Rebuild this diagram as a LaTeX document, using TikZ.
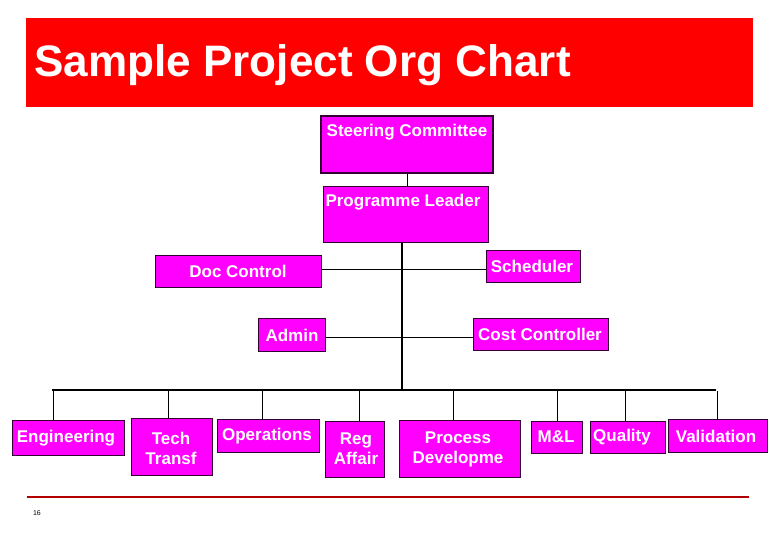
\documentclass[tikz,border=0pt]{standalone}
\usepackage{fontspec}
\setmainfont{Liberation Sans}
\definecolor{mag}{RGB}{255,0,255}
\definecolor{rd}{RGB}{255,0,0}
\begin{document}
\begin{tikzpicture}[x=1pt,y=-1pt,
 bx/.style={draw=black!80!mag,line width=0.8pt,fill=mag},
 lbl/.style={text=white,font=\bfseries\fontsize{17}{20}\selectfont,align=center,inner sep=0pt},
 ln/.style={line width=0.7pt}]
\useasboundingbox (0,0) rectangle (780,540);
\fill[white] (0,0) rectangle (780,540);
\fill[rd] (26,18) rectangle (753,107);
\node[anchor=west,text=white,font=\bfseries\fontsize{29}{34}\selectfont,inner sep=0pt,scale=1.52] (title) at (34,65) {Sample Project Org Chart};
\newcommand{\otext}[6]{\begin{scope}\clip (#1,#2) rectangle (#3,#4);
 \node[lbl] at (#5) {#6};\end{scope}}
\coordinate (top) at (402,242);
\coordinate (bus) at (402,390);
\draw[line width=1.2pt] (top) -- (bus);
\draw[line width=2pt] (52,390) coordinate (busL) -- (716,390) coordinate (busR);
\draw[ln] (407,173) coordinate (sc) -- (407,186) coordinate (pl);
\draw[ln] (321,269) coordinate (dc) -- (486,269) coordinate (sch);
\draw[ln] (325,337) coordinate (ad) -- (473,337) coordinate (cc);
\foreach \x/\y in {53/420,168/418,262/419,359/421,453/420,557/421,625/421,717/419}
 \draw[ln] (\x,391) -- (\x,\y);
\draw[bx,line width=1.3pt] (321,116) rectangle (493,173);
\otext{321}{116}{493}{173}{407,132}{Steering Committee}
\draw[bx] (323,186) rectangle (488,242);
\otext{323}{186}{488}{242}{403,202}{Programme Leader}
\draw[bx] (155,255) rectangle (321,287);
\otext{155}{255}{321}{287}{238,271}{Doc Control}
\draw[bx] (486,250) rectangle (580,282);
\otext{486}{250}{580}{282}{532,266}{Scheduler}
\draw[bx] (258,318) rectangle (325,351);
\otext{258}{318}{325}{351}{292,335}{Admin}
\draw[bx] (473,318) rectangle (608,350);
\otext{473}{318}{608}{350}{540,334}{Cost Controller}
\draw[bx] (12,420) rectangle (124,455);
\otext{0}{420}{124}{455}{66,438}{Engineering}
\draw[bx] (131,418) rectangle (212,475);
\otext{131}{418}{212}{475}{171,448}{Tech\\Transf}
\draw[bx] (217,419) rectangle (319,452);
\otext{217}{419}{319}{452}{267,436}{Operations}
\draw[bx] (325,421) rectangle (384,477);
\otext{325}{421}{384}{477}{356,449}{Reg\\Affair}
\draw[bx] (399,420) rectangle (520,477);
\otext{399}{420}{520}{477}{458,449}{Process\\Developme}
\draw[bx] (531,421) rectangle (582,453);
\otext{531}{421}{582}{453}{556,437}{M\&L}
\draw[bx] (590,421) rectangle (665,453);
\otext{590}{421}{665}{453}{622,437}{Quality}
\draw[bx] (668,419) rectangle (767,452);
\otext{668}{419}{767}{452}{716,436}{Validation}
\draw[line width=1.5pt,color=red!70!black] (27,497) -- (749,497);
\node[font=\fontsize{7}{8}\selectfont,inner sep=0pt] (pg) at (37,513) {16};
\end{tikzpicture}
\end{document}
